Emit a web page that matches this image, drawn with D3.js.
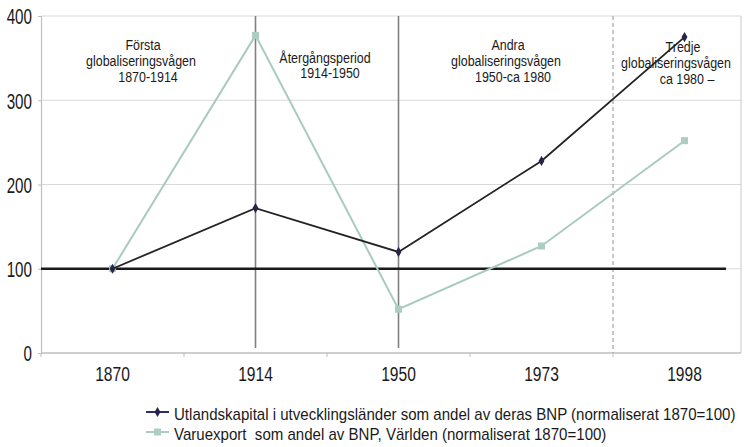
<!DOCTYPE html>
<html><head><meta charset="utf-8">
<script src="https://cdn.jsdelivr.net/npm/d3@7"></script>
<style>
body{margin:0;background:#fff;}
text{font-family:"Liberation Sans",Arial,sans-serif;fill:#1a1a1a;}
</style></head>
<body><svg id="c" width="747" height="447"></svg>
<script>
const categories = ["1870","1914","1950","1973","1998"];
const utlandskapital = [100,172,120,228,375];
const varuexport = [100,377,52,127,252];
const yTicks = [0,100,200,300,400];
const seriesNames = [
  "Utlandskapital i utvecklingsländer som andel av deras BNP (normaliserat 1870=100)",
  "Varuexport  som andel av BNP, Världen (normaliserat 1870=100)"
];
const periodLabels = [
  {lines:["Första","globaliseringsvågen","1870-1914"], cx:[143,141,148], y:[50,66,82]},
  {lines:["Återgångsperiod","1914-1950"], cx:[325,330], y:[63,78]},
  {lines:["Andra","globaliseringsvågen","1950-ca 1980"], cx:[508,506,513], y:[50,66,82]},
  {lines:["Tredje","globaliseringsvågen","ca 1980 –"], cx:[683,676,687], y:[52,68,84]}
];

(function(){
const svg = d3.select("#c");
const pL = 41, pT = 16, pB = 353, pR = 741;
const x = d3.scaleBand().domain(categories).range([pL, pL + 143*5]).padding(0);
const y = d3.scaleLinear().domain([0,400]).range([pB, pT]);
const cx = c => x(c) + x.bandwidth()/2;

// horizontally condense a text element around its anchor
function squeeze(sel, f){
  sel.each(function(){
    const t = d3.select(this);
    const x0 = +t.attr("x") || 0, y0 = +t.attr("y") || 0;
    t.attr("x", 0).attr("y", 0).attr("transform", `translate(${x0},${y0}) scale(${f},1)`);
  });
}

// gridlines
svg.append("g").selectAll("line").data(yTicks.filter(d=>d>0)).join("line")
  .attr("x1", pL).attr("x2", pR).attr("y1", d=>y(d)).attr("y2", d=>y(d))
  .attr("stroke", "#d9d9d9").attr("stroke-width", 1.2);
// right border
svg.append("line").attr("x1", pR).attr("x2", pR).attr("y1", pT).attr("y2", pB)
  .attr("stroke", "#c8c8c8").attr("stroke-width", 1);

// y axis
const yAxis = svg.append("g").attr("transform", `translate(${pL},0)`)
  .call(d3.axisLeft(y).tickValues(yTicks).tickSize(3).tickPadding(6));
yAxis.select(".domain").attr("stroke", "#bfbfbf").attr("stroke-width", 1.2);
yAxis.selectAll(".tick line").attr("stroke", "#bfbfbf");
yAxis.selectAll(".tick text").attr("font-size", 22).attr("fill", "#1a1a1a")
  .attr("font-family", null).attr("dy", "0.36em").call(squeeze, 0.69);

// x axis
const xAxis = svg.append("g").attr("transform", `translate(0,${pB})`)
  .call(d3.axisBottom(x).tickSize(0).tickPadding(14));
xAxis.select(".domain").remove();
svg.append("line").attr("x1", pL).attr("x2", pR).attr("y1", pB).attr("y2", pB)
  .attr("stroke", "#bfbfbf").attr("stroke-width", 1.5);
xAxis.selectAll(".tick text").attr("font-size", 19.5).attr("fill", "#1a1a1a")
  .attr("font-family", null).call(squeeze, 0.8);
// band boundary ticks
svg.append("g").selectAll("line").data(categories).join("line")
  .attr("x1", d=>x(d)).attr("x2", d=>x(d)).attr("y1", pB).attr("y2", pB+4)
  .attr("stroke", "#bfbfbf");

// period separators
svg.append("g").selectAll("line").data(["1914","1950"]).join("line")
  .attr("x1", d=>cx(d)).attr("x2", d=>cx(d)).attr("y1", pT).attr("y2", pB-5)
  .attr("stroke", "#808080").attr("stroke-width", 1.6);
svg.append("line").attr("x1", x("1998")).attr("x2", x("1998")).attr("y1", pT).attr("y2", pB)
  .attr("stroke", "#a6a6a6").attr("stroke-width", 1.2).attr("stroke-dasharray", "4,3");

// baseline 100
svg.append("line").attr("x1", pL).attr("x2", 726).attr("y1", y(100)).attr("y2", y(100))
  .attr("stroke", "#1a1a1a").attr("stroke-width", 2.5);

// period labels
periodLabels.forEach(p => {
  p.lines.forEach((t,i) => {
    svg.append("text").attr("x", p.cx[i]).attr("y", p.y[i]).attr("text-anchor","middle")
      .attr("font-size", 15).text(t).call(squeeze, 0.83);
  });
});

const line = d3.line().x((d,i)=>cx(categories[i])).y(d=>y(d));
// green series
svg.append("path").datum(varuexport).attr("d", line).attr("fill","none")
  .attr("stroke", "#a9cbbf").attr("stroke-width", 2);
svg.append("g").selectAll("rect").data(varuexport).join("rect")
  .attr("x", (d,i)=>cx(categories[i])-3.5).attr("y", d=>y(d)-3.5)
  .attr("width", 7).attr("height", 7).attr("fill", "#aecdc2");
// black series
svg.append("path").datum(utlandskapital).attr("d", line).attr("fill","none")
  .attr("stroke", "#232323").attr("stroke-width", 1.8);
svg.append("g").selectAll("path").data(utlandskapital).join("path")
  .attr("d", d3.symbol(d3.symbolDiamond, 30))
  .attr("transform", (d,i)=>`translate(${cx(categories[i])},${y(d)})`)
  .attr("fill", "#25254a");

// legend
const leg = svg.append("g");
const legColors = ["#2e2e6e","#aecdc2"];
const legTexts = [];
seriesNames.forEach((n,i) => {
  const ly = 412 + i*20;
  leg.append("line").attr("x1",146).attr("x2",169).attr("y1",ly).attr("y2",ly)
    .attr("stroke", legColors[i]).attr("stroke-width", 2);
  if (i===0) leg.append("path").attr("d", d3.symbol(d3.symbolDiamond, 30))
    .attr("transform", `translate(157.5,${ly})`).attr("fill", "#25254a");
  else leg.append("rect").attr("x",154).attr("y",ly-3.5).attr("width",7).attr("height",7).attr("fill","#aecdc2");
  legTexts.push(leg.append("text").attr("x",174).attr("y",ly+8).attr("font-size",17)
    .style("white-space","pre").text(n));
});
const w0 = legTexts[0].node().getComputedTextLength();
const f = 562 / w0;
legTexts.forEach(t => t.call(squeeze, f));
})();
</script></body></html>
